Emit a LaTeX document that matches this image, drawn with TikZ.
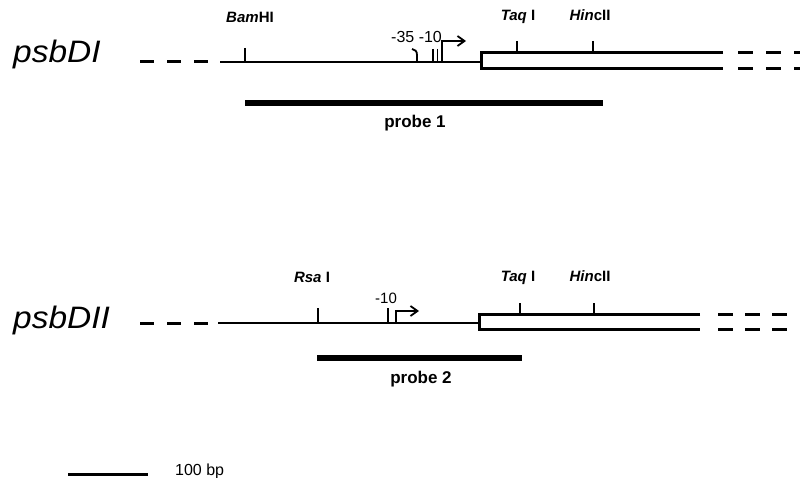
\documentclass[tikz,border=0pt]{standalone}
\usepackage{fontspec}
\setmainfont{Liberation Sans}
\usetikzlibrary{arrows.meta}
\begin{document}
\begin{tikzpicture}[x=1pt,y=-1pt,
  gene/.style={font=\fontsize{31}{31}\selectfont\itshape, anchor=base west, inner sep=0},
  site/.style={font=\fontsize{15}{15}\selectfont\bfseries, inner sep=0, anchor=base},
  prom/.style={font=\fontsize{16}{16}\selectfont, inner sep=0, anchor=base west},
  probelbl/.style={font=\fontsize{17}{17}\selectfont\bfseries, inner sep=0, anchor=base},
  dna/.style={line width=2.6pt},
  flank/.style={line width=3pt, dash pattern=on 14pt off 13pt},
  boxline/.style={line width=3pt},
  tick/.style={line width=1.8pt},
  probebar/.style={line width=5.5pt},
  tss/.style={line width=1.8pt, -{Straight Barb[length=7pt,width=10pt,line width=1.8pt]}}]
\useasboundingbox (0,0) rectangle (800,478);

% ---------- psbDI ----------
\node[gene] (g1) at (13,63) {\scalebox{1.08}[1]{psbDI}};
\coordinate (l1a) at (140,62);
\coordinate (l1b) at (220,62);
\coordinate (l1c) at (481,62);
\draw[flank] (l1a) -- (l1b);
\draw[dna] (l1b) -- (l1c);
\draw[boxline] (723,53) -- (481,53) -- (481,69) -- (723,69);
\draw[flank, dash pattern=on 15pt off 13pt] (738,53) -- (800,53);
\draw[flank, dash pattern=on 15pt off 13pt] (738,69) -- (800,69);
% sites
\draw[tick] (245,48) -- (245,62);
\node[site] (bam) at (250,23) {\textit{Bam}HI};
\draw[tick] (517,41) -- (517,53);
\node[site] (taq1) at (518,21) {\textit{Taq} I};
\draw[tick] (593,41) -- (593,53);
\node[site] (hinc1) at (590,21) {\textit{Hin}cII};
% promoter
\draw[tick] (412,49) .. controls (415,49.5) and (417,51) .. (417,55) -- (417,62);
\draw[tick] (433,49) -- (433,62);
\draw[tick] (437.5,49) -- (437.5,62);
\draw[tss] (442,62) -- (442,41) -- (466,41);
\node[prom] (p1) at (391,43) {-35 -10};
% probe
\draw[probebar] (245,103) -- (603,103);
\node[probelbl] (pr1) at (415,128) {probe 1};

% ---------- psbDII ----------
\node[gene] (g2) at (13,328) {\scalebox{1.08}[1]{psbDII}};
\coordinate (l2a) at (140,323);
\coordinate (l2b) at (218,323);
\coordinate (l2c) at (479,323);
\draw[flank] (l2a) -- (l2b);
\draw[dna] (l2b) -- (l2c);
\draw[boxline] (700,314) -- (479,314) -- (479,329) -- (700,329);
\draw[flank, dash pattern=on 15pt off 12pt] (718,314) -- (790,314);
\draw[flank, dash pattern=on 15pt off 12pt] (718,329) -- (790,329);
% sites
\draw[tick] (318,308) -- (318,323);
\node[site] (rsa) at (312,283) {\textit{Rsa} I};
\draw[tick] (520,303) -- (520,314);
\node[site] (taq2) at (518,282) {\textit{Taq} I};
\draw[tick] (594,303) -- (594,314);
\node[site] (hinc2) at (590,282) {\textit{Hin}cII};
% promoter
\draw[tick] (388,308) -- (388,323);
\draw[tss] (396,323) -- (396,311) -- (419,311);
\node[prom, font=\fontsize{15}{15}\selectfont] (p2) at (375,303) {-10};
% probe
\draw[probebar] (317,358) -- (522,358);
\node[probelbl] (pr2) at (421,383) {probe 2};

% ---------- scale ----------
\coordinate (s1) at (68,474);
\coordinate (s2) at (148,474);
\draw[line width=3pt] (s1) -- (s2);
\node[font=\fontsize{16}{16}\selectfont, inner sep=0, anchor=base west] (sc) at (175,475) {100 bp};
\end{tikzpicture}
\end{document}
